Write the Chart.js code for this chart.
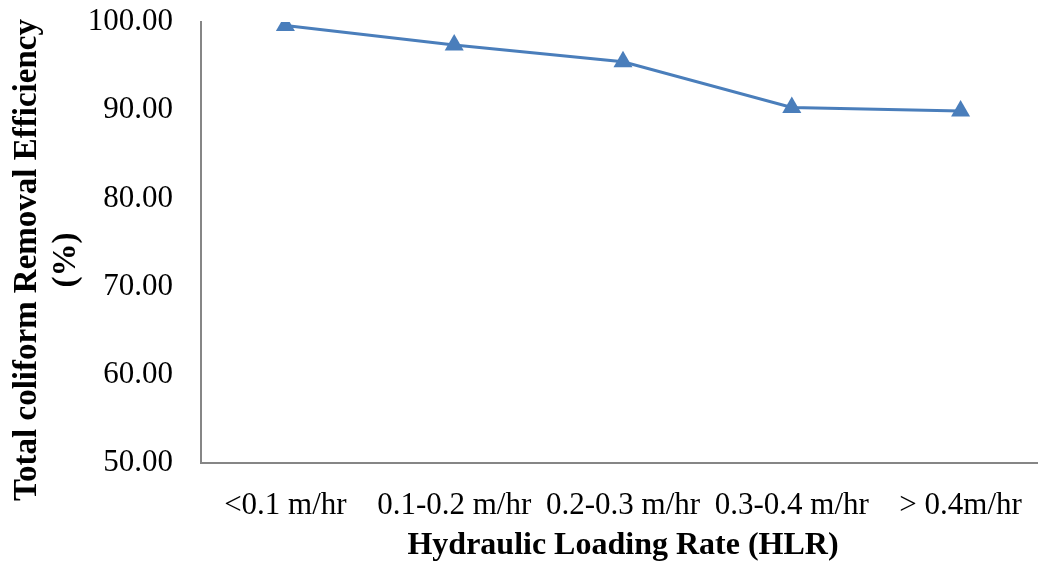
<!DOCTYPE html>
<html>
<head>
<meta charset="utf-8">
<script src="https://cdn.jsdelivr.net/npm/chart.js@4"></script>
<style>
  html, body { margin: 0; padding: 0; background: #fff; overflow: hidden; }
</style>
</head>
<body>
<canvas id="hlrChart" width="1045" height="565"></canvas>
<script>
const hlrLabels = ['<0.1 m/hr', '0.1-0.2 m/hr', '0.2-0.3 m/hr', '0.3-0.4 m/hr', '> 0.4m/hr'];
const coliformRemoval = [99.6, 97.4, 95.5, 90.3, 89.9];
const yTicks = [50, 60, 70, 80, 90, 100];
const yTitleLines = ['Total coliform Removal Efficiency', '(%)'];

const serif = 'Liberation Serif, Times New Roman, serif';

// vertical axis title, two rotated lines centred a little below the plot middle
const yTitlePlugin = {
    id: 'yTitle',
    afterDraw(chart) {
        const c = chart.ctx;
        c.save();
        c.font = 'bold 33px ' + serif;
        c.fillStyle = '#000';
        c.textAlign = 'center';
        c.textBaseline = 'middle';
        c.translate(0, 260);
        c.rotate(-Math.PI / 2);
        c.fillText(yTitleLines[0], 0, 27);
        c.fillText(yTitleLines[1], 0, 66);
        c.restore();
    }
};

new Chart(document.getElementById('hlrChart'), {
    type: 'line',
    data: {
        labels: hlrLabels,
        datasets: [{
            label: 'Total coliform Removal Efficiency',
            data: coliformRemoval,
            borderColor: '#4a7ebb',
            backgroundColor: '#4a7ebb',
            borderWidth: 3,
            pointStyle: 'triangle',
            pointRadius: 11,
            pointBorderWidth: 0,
            tension: 0,
            fill: false
        }]
    },
    options: {
        responsive: false,
        animation: false,
        layout: { autoPadding: false, padding: { top: 22, right: 0, left: 0, bottom: 0 } },
        plugins: {
            legend: { display: false },
            tooltip: { enabled: false }
        },
        scales: {
            x: {
                offset: true,
                // hidden tick marks only give the gap between axis and labels
                grid: { display: false, drawTicks: true, tickLength: 24 },
                border: { color: '#868686', width: 2 },
                ticks: {
                    color: '#000',
                    padding: 0,
                    maxRotation: 0,
                    autoSkip: false,
                    font: { family: serif, size: 31 }
                },
                title: {
                    display: true,
                    text: 'Hydraulic Loading Rate (HLR)',
                    color: '#000',
                    padding: { top: 3, bottom: 0 },
                    font: { family: serif, size: 32, weight: 'bold' }
                },
                afterFit: (scale) => {
                    scale.height = 102;
                    scale.paddingLeft = 0;
                    scale.paddingRight = 0;
                }
            },
            y: {
                min: yTicks[0],
                max: yTicks[yTicks.length - 1],
                afterBuildTicks: (scale) => { scale.ticks = yTicks.map(v => ({ value: v })); },
                grid: { display: false, drawTicks: true, tickLength: 28 },
                border: { color: '#868686', width: 2 },
                ticks: {
                    color: '#000',
                    padding: 0,
                    font: { family: serif, size: 31 },
                    callback: (v) => Number(v).toFixed(2)
                },
                afterFit: (scale) => { scale.width = 201; }
            }
        }
    },
    plugins: [yTitlePlugin]
});
</script>
</body>
</html>
